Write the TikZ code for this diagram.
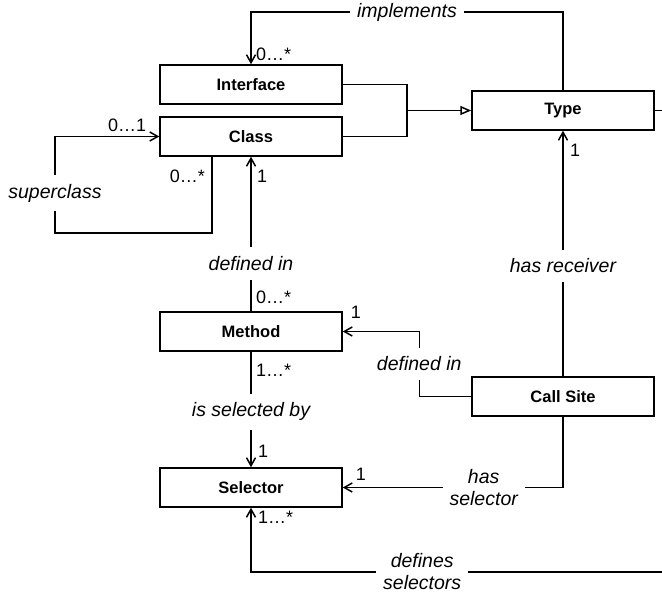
\documentclass[tikz,border=0pt]{standalone}
\usepackage{fontspec}
\setmainfont{Liberation Sans}
\usetikzlibrary{arrows.meta}

\begin{document}
\begin{tikzpicture}[x=1pt,y=1pt,
    box/.style={draw,line width=1.5pt,minimum width=182pt,minimum height=39pt,
      font=\fontsize{16.5}{19}\selectfont\bfseries},
    assoc/.style={line width=1.5pt,-{Straight Barb[length=8pt,width=9pt]}},
    gen/.style={line width=1.5pt,-{Triangle[open,length=11pt,width=9pt]}},
    lbl/.style={fill=white,inner xsep=7pt,inner ysep=9pt,align=center,
      font=\fontsize{19.5}{22}\selectfont\itshape},
    mult/.style={inner sep=1pt,font=\fontsize{18}{20}\selectfont}]
  \clip (0,0) rectangle (662,594);

  % classes
  \node[box] (Interface) at (251,509.5) {Interface};
  \node[box] (Class) at (251,457.5) {Class};
  \node[box] (Type) at (563,483.5) {Type};
  \node[box] (Method) at (251,262.5) {Method};
  \node[box] (Selector) at (251,106.5) {Selector};
  \node[box] (CallSite) at (563,197.5) {Call Site};

  % generalization
  \coordinate (join) at (407,483.5);
  \draw[line width=1.5pt] (Interface.east) -| (join);
  \draw[line width=1.5pt] (Class.east) -| (join);
  \draw[gen] (join) -- (Type.west);

  % implements
  \draw[assoc] (Type.north) -- ++(0,78) -| node[lbl,pos=0.25] {implements} (Interface.north);
  \node[mult,anchor=south west] (multImpl) at ([xshift=4pt,yshift=2pt]Interface.north) {0…*};

  % superclass
  \coordinate (superStart) at ([xshift=-39pt]Class.south);
  \draw[assoc] (superStart) |- (55,361) |- (Class.west);
  \node[lbl] (superLbl) at (55,401) {superclass};
  \node[mult,anchor=south east] (multSuperA) at ([xshift=-12pt,yshift=4pt]Class.west) {0…1};
  \node[mult,anchor=north east] (multSuperB) at ([xshift=-6pt,yshift=-12pt]superStart) {0…*};

  % method defined in class
  \draw[assoc] (Method.north) -- node[lbl,pos=0.31] {defined in} (Class.south);
  \node[mult,anchor=north west] (multClass) at ([xshift=5pt,yshift=-12pt]Class.south) {1};
  \node[mult,anchor=south west] (multMethodA) at ([xshift=4pt,yshift=6pt]Method.north) {0…*};

  % method selected by selector
  \draw[assoc] (Method.south) -- node[lbl,pos=0.52] {is selected by} (Selector.north);
  \node[mult,anchor=north west] (multMethodB) at ([xshift=4pt,yshift=-11pt]Method.south) {1…*};
  \node[mult,anchor=south west] (multSelA) at ([xshift=6pt,yshift=9pt]Selector.north) {1};

  % call site
  \draw[assoc] (CallSite.north) -- node[lbl,pos=0.45] {has receiver} (Type.south);
  \node[mult,anchor=north west] (multType) at ([xshift=6pt,yshift=-12pt]Type.south) {1};

  \draw[assoc] (CallSite.west) -- ++(-52,0) |- node[lbl,pos=0.25] {defined in} (Method.east);
  \node[mult,anchor=south west] (multMethodC) at ([xshift=7pt,yshift=12pt]Method.east) {1};

  \draw[assoc] (CallSite.south) |- node[lbl,pos=0.68] {has\\selector} (Selector.east);
  \node[mult,anchor=south west] (multSelB) at ([xshift=12pt,yshift=6pt]Selector.east) {1};

  % type defines selectors
  \coordinate (rightTurn) at (690,22);
  \draw[assoc] (Type.east) -| (rightTurn) -| node[lbl,pos=0.305] {defines\\selectors} (Selector.south);
  \node[mult,anchor=north west] (multSelC) at ([xshift=6pt,yshift=-2pt]Selector.south) {1…*};
\end{tikzpicture}
\end{document}
